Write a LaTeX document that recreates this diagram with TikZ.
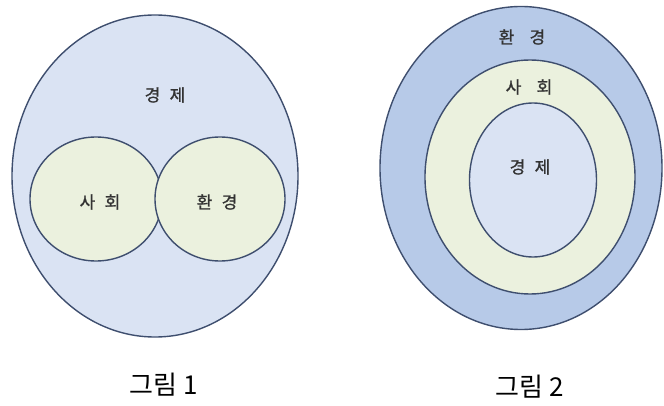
\documentclass[tikz,border=0pt]{standalone}
\usepackage{fontspec}
\usepackage{tikz}
\usetikzlibrary{shapes.geometric, positioning}
\newfontfamily\krfont{Noto Sans CJK KR}[FakeBold=1.2]
\newfontfamily\krcapfont{Noto Sans CJK KR}
\definecolor{lineblue}{HTML}{3E4E6E}
\definecolor{paleblue}{HTML}{DAE3F3}
\definecolor{midblue}{HTML}{B7CAE8}
\definecolor{palegreen}{HTML}{EBF1DE}
\definecolor{textgray}{HTML}{333333}
\tikzset{
	ring/.style={ellipse, draw=lineblue, line width=1.4pt, inner sep=0pt},
	label/.style={font=\krfont\fontsize{17}{17}\selectfont, text=textgray},
	caption/.style={font=\krcapfont\fontsize{26}{26}\selectfont, text=black}
}
\begin{document}
\begin{tikzpicture}[x=1pt, y=-1pt]
		\useasboundingbox (0,0) rectangle (664,406);
		% Figure 1: economy holds society and environment
		\node[ring, fill=paleblue, minimum width=286pt, minimum height=322pt] (eco1) at (155,176) {};
		\node[ring, fill=palegreen, minimum width=132pt, minimum height=124pt] (soc1) at (96,199) {};
		\node[ring, fill=palegreen, minimum width=130pt, minimum height=124pt] (env1) at (220,199) {};
		\node[label] (eco1t) at (165,95) {경\hspace{0.55em}제};
		\node[label] (soc1t) at (100,202) {사\hspace{0.55em}회};
		\node[label] (env1t) at (217,202) {환\hspace{0.55em}경};

		% Figure 2: nested rings
		\node[ring, fill=midblue, minimum width=282pt, minimum height=323pt] (env2) at (521,168) {};
		\node[ring, fill=palegreen, minimum width=210pt, minimum height=234pt] (soc2) at (530,177) {};
		\node[ring, fill=paleblue, minimum width=127pt, minimum height=154pt] (eco2) at (533,180) {};
		\node[label] (env2t) at (522,37) {환\hspace{0.9em}경};
		\node[label] (soc2t) at (529,87) {사\hspace{0.9em}회};
		\node[label] (eco2t) at (530,167) {경\hspace{0.55em}제};

		% Captions
		\node[caption] (cap1) at (164,385) {그림 1};
		\node[caption] (cap2) at (530,387) {그림 2};
	\end{tikzpicture}
\end{document}
